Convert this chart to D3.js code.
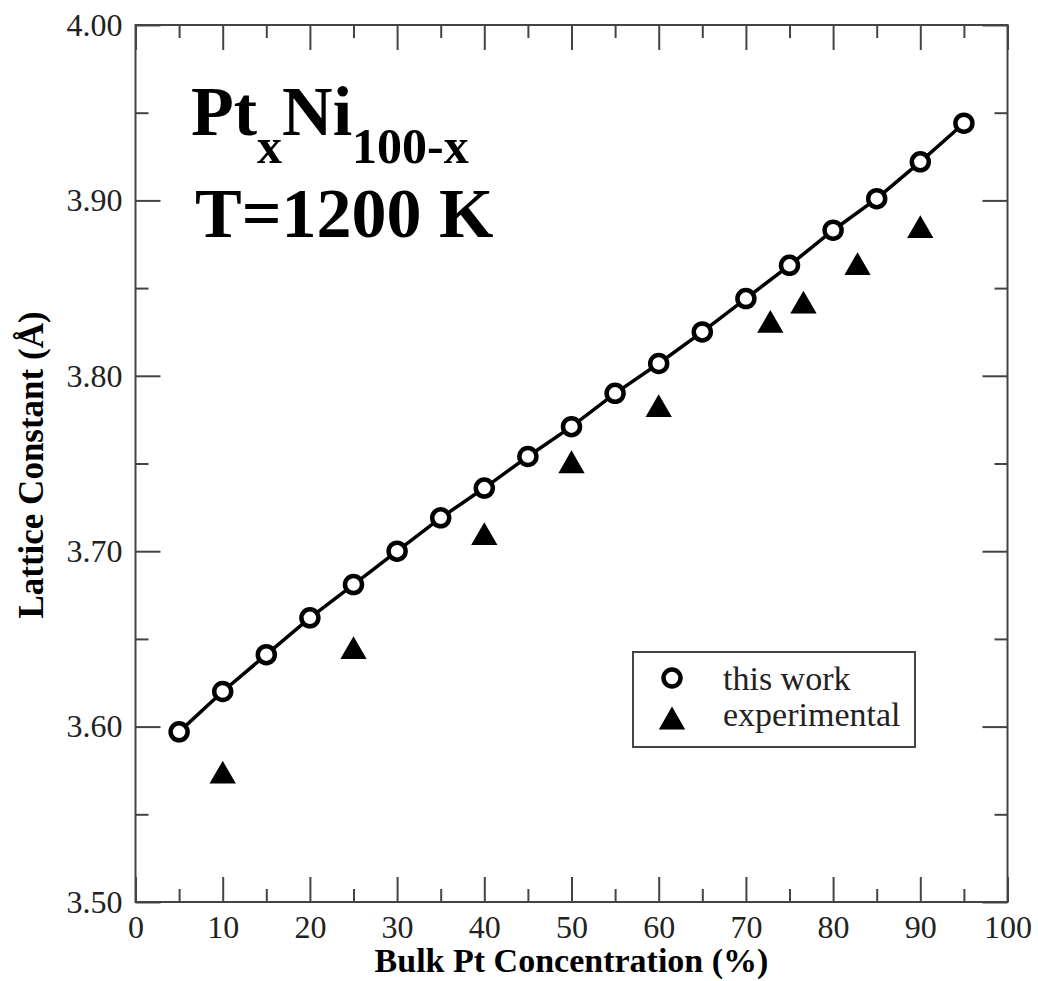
<!DOCTYPE html>
<html>
<head>
<meta charset="utf-8">
<script src="https://cdn.jsdelivr.net/npm/d3@7"></script>
<style>
  body { margin: 0; background: #fff; }
  svg { display: block; }
  text { font-family: "Liberation Serif", "Times New Roman", serif; }
</style>
</head>
<body>
<div id="chart"></div>
<script>
// Pt concentration (%) for the computed points
const calcX = [5, 10, 15, 20, 25, 30, 35, 40, 45, 50, 55, 60, 65, 70, 75, 80, 85, 90, 95];
const calcY = [3.597, 3.620, 3.641, 3.662, 3.681, 3.700, 3.719, 3.736, 3.754, 3.771,
               3.790, 3.807, 3.825, 3.844, 3.863, 3.883, 3.901, 3.922, 3.944];
// experimental points
const expX = [10, 25, 40, 50, 60, 72.8, 76.6, 82.8, 90];
const expY = [3.574, 3.645, 3.710, 3.751, 3.783, 3.831, 3.842, 3.864, 3.885];

const xMajor = [0, 10, 20, 30, 40, 50, 60, 70, 80, 90, 100];
const xMinor = [5, 15, 25, 35, 45, 55, 65, 75, 85, 95];
const yMajor = [3.50, 3.60, 3.70, 3.80, 3.90, 4.00];
const yMinor = [3.55, 3.65, 3.75, 3.85, 3.95];

const legendLabels = ['this work', 'experimental'];

const W = 1038, H = 981;
const mLeft = 135.5, mRight = 1007.5, mTop = 25, mBottom = 902;
const axisColor = '#444';

const svg = d3.select('#chart').append('svg')
  .attr('width', W)
  .attr('height', H);

const x = d3.scaleLinear().domain([0, 100]).range([mLeft, mRight]);
const y = d3.scaleLinear().domain([3.5, 4.0]).range([mBottom, mTop]);

// frame
svg.append('rect')
  .attr('x', mLeft).attr('y', mTop)
  .attr('width', mRight - mLeft).attr('height', mBottom - mTop)
  .attr('fill', 'none')
  .attr('stroke', axisColor)
  .attr('stroke-width', 2);

// helper to draw inward ticks on a side
function ticks(axisFn, scale, values, size, transform, labels) {
  const g = svg.append('g')
    .attr('transform', transform)
    .call(axisFn(scale).tickValues(values).tickSize(-size).tickPadding(12)
      .tickFormat(labels ? labels : ''));
  g.select('.domain').remove();
  g.selectAll('.tick line').attr('stroke', axisColor).attr('stroke-width', 2);
  return g;
}

// bottom axis
const xb = ticks(d3.axisBottom, x, xMajor, 25, `translate(0,${mBottom})`, d3.format('d'));
xb.selectAll('.tick text')
  .attr('font-size', 32)
  .attr('fill', '#222')
  .attr('dy', null)
  .attr('y', 36);
ticks(d3.axisBottom, x, xMinor, 13, `translate(0,${mBottom})`);
// top mirror
ticks(d3.axisTop, x, xMajor, 25, `translate(0,${mTop})`);
ticks(d3.axisTop, x, xMinor, 13, `translate(0,${mTop})`);

// left axis
const yl = ticks(d3.axisLeft, y, yMajor, 25, `translate(${mLeft},0)`, d3.format('.2f'));
yl.selectAll('.tick text')
  .attr('font-size', 32)
  .attr('fill', '#222')
  .attr('x', -13);
ticks(d3.axisLeft, y, yMinor, 13, `translate(${mLeft},0)`);
// right mirror
ticks(d3.axisRight, y, yMajor, 25, `translate(${mRight},0)`);
ticks(d3.axisRight, y, yMinor, 13, `translate(${mRight},0)`);

// axis titles
svg.append('text')
  .attr('x', (mLeft + mRight) / 2)
  .attr('y', 972)
  .attr('text-anchor', 'middle')
  .attr('font-size', 34)
  .attr('font-weight', 'bold')
  .text('Bulk Pt Concentration (%)');

svg.append('text')
  .attr('transform', `translate(43,465) rotate(-90)`)
  .attr('text-anchor', 'middle')
  .attr('font-size', 35)
  .attr('font-weight', 'bold')
  .text('Lattice Constant (Å)');

// line through computed points
const pts = calcX.map((d, i) => [d, calcY[i]]);
svg.append('path')
  .datum(pts)
  .attr('fill', 'none')
  .attr('stroke', '#000')
  .attr('stroke-width', 3.5)
  .attr('d', d3.line().x(d => x(d[0])).y(d => y(d[1])));

// triangle centred on its bounding box (like the xmgrace symbol)
const triBox = {
  draw(ctx, size) {
    const w = Math.sqrt(size * 4 / Math.sqrt(3));
    const h = w * Math.sqrt(3) / 2;
    ctx.moveTo(0, -h / 2);
    ctx.lineTo(w / 2, h / 2);
    ctx.lineTo(-w / 2, h / 2);
    ctx.closePath();
  }
};
const tri = d3.symbol().type(triBox).size(300);

svg.append('g').selectAll('path')
  .data(expX.map((d, i) => [d, expY[i]]))
  .join('path')
  .attr('transform', d => `translate(${x(d[0])},${y(d[1])})`)
  .attr('d', tri)
  .attr('fill', '#000');

svg.append('g').selectAll('circle')
  .data(pts)
  .join('circle')
  .attr('cx', d => x(d[0]))
  .attr('cy', d => y(d[1]))
  .attr('r', 8.5)
  .attr('fill', '#fff')
  .attr('stroke', '#000')
  .attr('stroke-width', 4.5);

// annotation
const ann = svg.append('text')
  .attr('x', 191)
  .attr('y', 135)
  .attr('font-size', 70)
  .attr('font-weight', 'bold');
ann.append('tspan').text('Pt');
ann.append('tspan').attr('font-size', 50).attr('dy', 28).text('x');
ann.append('tspan').attr('dy', -28).text('Ni');
ann.append('tspan').attr('font-size', 50).attr('dy', 28).text('100-x');

svg.append('text')
  .attr('x', 195)
  .attr('y', 237)
  .attr('font-size', 70)
  .attr('font-weight', 'bold')
  .text('T=1200 K');

// legend
const lg = svg.append('g');
lg.append('rect')
  .attr('x', 633).attr('y', 652)
  .attr('width', 282).attr('height', 95)
  .attr('fill', '#fff')
  .attr('stroke', axisColor)
  .attr('stroke-width', 2);
lg.append('circle')
  .attr('cx', 672).attr('cy', 678)
  .attr('r', 8.5)
  .attr('fill', '#fff')
  .attr('stroke', '#000')
  .attr('stroke-width', 4.5);
lg.append('path')
  .attr('transform', 'translate(672,718)')
  .attr('d', tri)
  .attr('fill', '#000');
lg.selectAll('text.lab')
  .data(legendLabels)
  .join('text')
  .attr('class', 'lab')
  .attr('x', 723)
  .attr('y', (d, i) => 690 + i * 36)
  .attr('font-size', 34)
  .attr('fill', '#222')
  .text(d => d);
</script>
</body>
</html>
